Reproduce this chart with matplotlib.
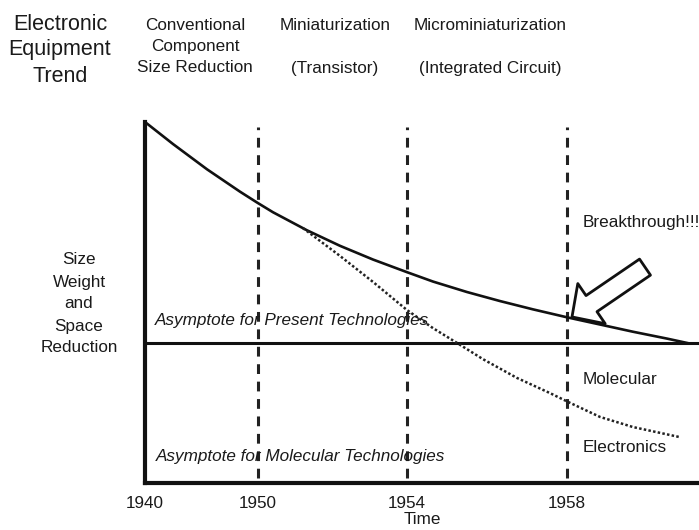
import matplotlib
matplotlib.use("Agg")
import matplotlib.pyplot as plt
from matplotlib.patches import FancyArrowPatch

plt.rcParams['font.family'] = ['Liberation Sans', 'DejaVu Sans']

# ---- data ----
tick_labels = ["1940", "1950", "1954", "1958"]
tick_pos = [0.0, 2.825, 6.55, 10.55]          # nonlinear time scale positions
era_bounds = tick_pos[1:]                     # dashed era boundaries

present_x = [0.0, 0.7, 1.55, 2.375, 2.8, 3.2, 4.05, 4.875, 5.7, 6.55,
             7.2, 8.05, 8.875, 9.7, 10.55, 11.375, 12.2, 13.05, 13.55]
present_y = [100.0, 93.9, 86.9, 80.7, 77.7, 75.0, 70.0, 65.7, 61.9, 58.4,
             55.8, 52.9, 50.4, 48.1, 45.9, 43.9, 41.9, 40.0, 38.8]

molecular_x = [3.95, 4.875, 5.7, 6.55, 7.2, 7.8, 8.45, 9.3, 10.125, 10.55,
               11.375, 12.2, 13.375]
molecular_y = [70.6, 62.9, 55.7, 47.9, 42.9, 38.8, 34.3, 29.1, 24.9, 22.6,
               18.3, 15.5, 12.7]

asymptote_present = 38.8
arrow_tail = (12.5, 59.8)
arrow_tip = (10.675, 46.0)

header_left = ["Electronic", "Equipment", "Trend"]
era_titles = [["Conventional", "Component", "Size Reduction"],
              ["Miniaturization", None, "(Transistor)"],
              ["Microminiaturization", None, "(Integrated Circuit)"]]
ylabel_lines = ["Size", "Weight", "and", "Space", "Reduction"]

# ---- figure ----
W, H = 699, 530
INK = "#1a1a1a"
fig = plt.figure(figsize=(W / 100, H / 100), dpi=100)
ax = fig.add_axes([145 / W, (H - 483) / H, (W - 145) / W, (483 - 122) / H])
ax.set_xlim(0, 13.85)
ax.set_ylim(0, 100)

for s in ["top", "right"]:
    ax.spines[s].set_visible(False)
for s in ["left", "bottom"]:
    ax.spines[s].set_linewidth(3.0)
    ax.spines[s].set_color("#111111")

ax.set_yticks([])
ax.set_xticks(tick_pos)
ax.set_xticklabels(tick_labels, fontsize=12.3, color=INK)
ax.tick_params(axis="x", length=0, pad=9)
ax.set_xlabel("Time", fontsize=12.3, color=INK, labelpad=1)

# era boundaries
ax.vlines(era_bounds, 1.4, 98.6, colors="#222222", linewidth=2.2,
          linestyles=(0, (3.2, 2.5)), zorder=3)

# asymptote for present technologies
ax.axhline(asymptote_present, color="#111111", linewidth=2.2, zorder=2)

# curves
ax.plot(present_x, present_y, color="#111111", linewidth=1.9,
        solid_joinstyle="round", clip_on=False, zorder=4)
ax.plot(molecular_x, molecular_y, color="#222222", linewidth=1.8,
        linestyle=(0, (1, 0.9)), zorder=4)

# breakthrough arrow
arr = FancyArrowPatch(arrow_tail, arrow_tip,
                      arrowstyle="simple,head_length=17,head_width=35,tail_width=14",
                      mutation_scale=1, shrinkA=0, shrinkB=0,
                      facecolor="white", edgecolor="#111111", linewidth=2.0,
                      zorder=5)
ax.add_patch(arr)

def px(x, y):
    return x / W, 1 - y / H

# annotations inside chart
fig.text(*px(155, 320), "Asymptote for Present Technologies", fontsize=12.3,
         style="italic", va="center", ha="left", color=INK, zorder=1)
fig.text(*px(156, 457), "Asymptote for Molecular Technologies", fontsize=12.3,
         style="italic", va="center", ha="left", color=INK, zorder=1)
fig.text(*px(583, 223), "Breakthrough!!!", fontsize=12.3, va="center",
         ha="left", color=INK)
fig.text(*px(583, 380), "Molecular", fontsize=12.3, va="center",
         ha="left", color=INK)
fig.text(*px(583, 448), "Electronics", fontsize=12.3, va="center",
         ha="left", color=INK)

# header
for t, yy in zip(header_left, [25, 50, 76]):
    fig.text(*px(60, yy), t, fontsize=15.5, ha="center", va="center",
             color=INK)
for lines, xc in zip(era_titles, [195, 335, 490]):
    for t, yy in zip(lines, [25, 47, 68]):
        if t:
            fig.text(*px(xc, yy), t, fontsize=12.3, ha="center", va="center",
                     color=INK)

# y label
for t, yy in zip(ylabel_lines, [260, 282, 304, 326, 347]):
    fig.text(*px(79, yy), t, fontsize=12.3, ha="center", va="center",
             color=INK)

fig.savefig("out.png", dpi=100)
